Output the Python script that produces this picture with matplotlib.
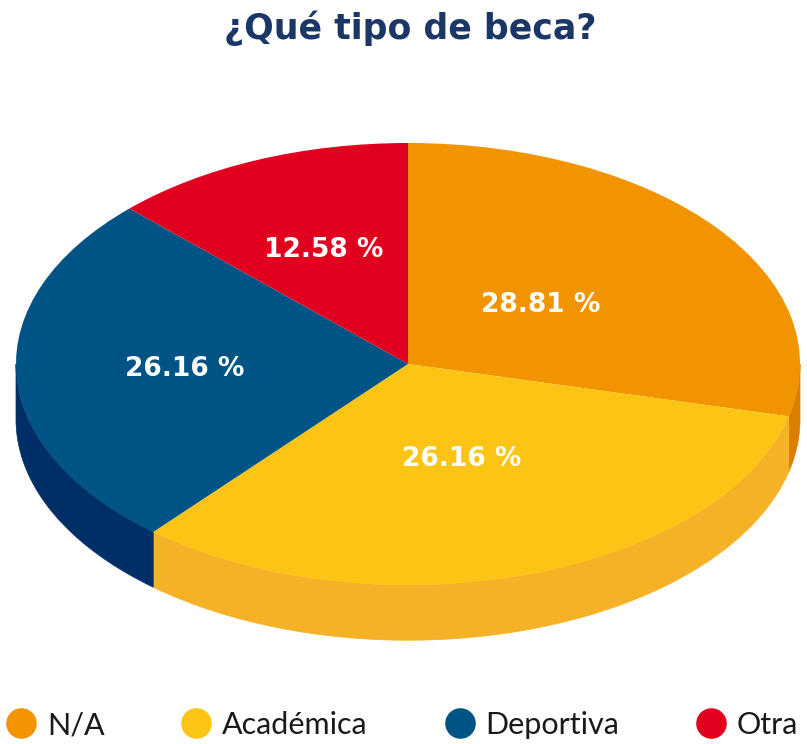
import numpy as np
import matplotlib
matplotlib.use("Agg")
import matplotlib.pyplot as plt
from matplotlib.lines import Line2D
from matplotlib.patches import Polygon

# data
categories = ["N/A", "Académica", "Deportiva", "Otra"]
slice_sizes = [28.81, 32.45, 26.16, 12.58]          # as drawn in the picture
label_texts = ["28.81 %", "26.16 %", "26.16 %", "12.58 %"]  # as printed

top_colors = ["#F29400", "#FCC414", "#005485", "#E2001F"]
side_colors = ["#DA7E00", "#F5B226", "#002F68", "#B0001A"]
label_radius = [0.43, 0.45, 0.57, 0.56]

DEPTH = 0.25  # pie thickness, in units of the vertical radius

fig = plt.figure(figsize=(8.07, 7.44), dpi=100)
ax = fig.add_axes([0, 0, 1, 1])

top_wedges, _ = ax.pie(slice_sizes, colors=top_colors, startangle=90,
                       counterclock=False, wedgeprops=dict(linewidth=0))

# side of the disc: the front arc of each slice swept down by DEPTH
for w, col in zip(top_wedges, side_colors):
    t1, t2 = sorted((w.theta1, w.theta2))
    for k in range(-2, 3):
        lo = max(t1, 180 + 360 * k)
        hi = min(t2, 360 + 360 * k)
        if hi <= lo:
            continue
        t = np.radians(np.linspace(lo, hi, 100))
        xs = np.concatenate([np.cos(t), np.cos(t[::-1])])
        ys = np.concatenate([np.sin(t), np.sin(t[::-1]) - DEPTH])
        band = Polygon(np.column_stack([xs, ys]), closed=True, facecolor=col,
                       edgecolor=col, linewidth=0.5, zorder=0.9)
        ax.add_patch(band)

for w in top_wedges:
    w.set_zorder(1)

for w, txt, r in zip(top_wedges, label_texts, label_radius):
    mid = np.radians((w.theta1 + w.theta2) / 2)
    ax.text(r * np.cos(mid), r * np.sin(mid), txt, color="white",
            fontsize=19, fontweight="bold", ha="center", va="center",
            zorder=3)

# map unit circle onto the page: centre (408, 364) px, radii 392 x 221 px
ax.set_aspect("auto")
ax.set_xlim(-408 / 392, (807 - 408) / 392)
ax.set_ylim(-380 / 221, (744 - 380) / 221)
ax.axis("off")

fig.text(0.508, 0.962, "¿Qué tipo de beca?", ha="center", va="center",
         fontsize=25, fontweight="bold", color="#1B3768")

handles = [Line2D([], [], linestyle="none", marker="o", markersize=21,
                  markerfacecolor=c, markeredgecolor=c) for c in top_colors]
fig.legend(handles, categories, ncol=4, loc="center left",
           bbox_to_anchor=(0.0071, 0.0255), frameon=False,
           prop=dict(family="Lato", size=22),
           handlelength=1.0, handletextpad=0.35, columnspacing=2.5,
           borderpad=0, borderaxespad=0, labelcolor="#1A1A1A")

fig.savefig("out.png", dpi=100, facecolor="white")
